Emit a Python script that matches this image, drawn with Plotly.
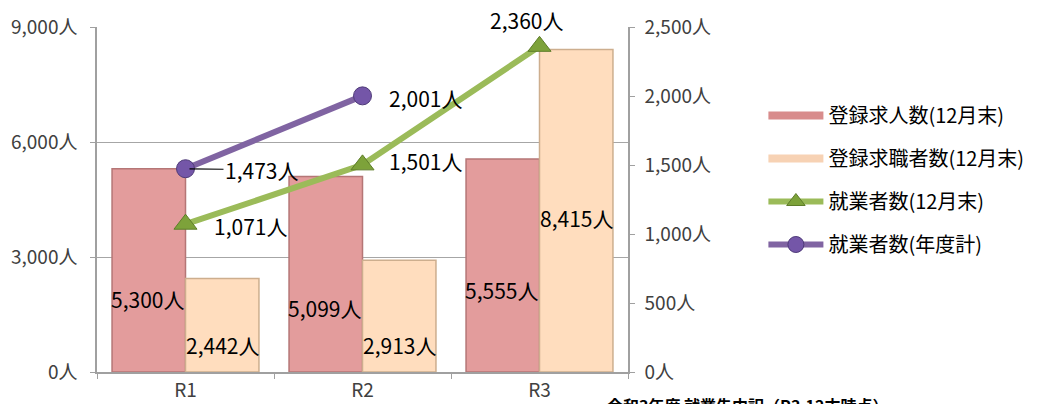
import plotly.graph_objects as go

categories = ["R1", "R2", "R3"]
kyujin = [5300, 5099, 5555]          # 登録求人数(12月末)
kyushoku = [2442, 2913, 8415]        # 登録求職者数(12月末)
shugyo_12 = [1071, 1501, 2360]       # 就業者数(12月末)
shugyo_year = [1473, 2001]           # 就業者数(年度計)
left_ticks = [0, 3000, 6000, 9000]
right_ticks = [0, 500, 1000, 1500, 2000, 2500]

# label placement styles (fraction of bar height, pixel offsets for line labels)
kyujin_lab_frac = [0.36, 0.33, 0.385]
kyushoku_lab_frac = [0.29, 0.24, 0.477]
shugyo12_offsets = [(65, -2), (63, 4), (-13, 26)]
shugyoyr_offsets = [(76, -1), (63, -2)]

FONT = "Noto Sans CJK JP"
PINK = "#E39C9C"
PINK_EDGE = "#B57676"
CREAM = "#FFDDBE"
CREAM_EDGE = "#CDAE8E"
GREEN = "#9BBB59"
PURPLE = "#8064A2"
LAB = dict(size=21, color="#000000", family=FONT)

# the page body has an 8px margin; the figure is sized to compensate
OFF = 8
W, H = 1041 - OFF, 404 - OFF

fig = go.Figure()
fig.add_trace(go.Bar(x=categories, y=kyujin, name="登録求人数(12月末)",
                     marker=dict(color=PINK, line=dict(color=PINK_EDGE, width=1.5)),
                     legendgroup="a", offsetgroup="a", showlegend=False))
fig.add_trace(go.Bar(x=categories, y=kyushoku, name="登録求職者数(12月末)",
                     marker=dict(color=CREAM, line=dict(color=CREAM_EDGE, width=1.5)),
                     legendgroup="b", offsetgroup="b", showlegend=False))
# legend-only entries drawn as wide flat bars, like the reference legend keys
fig.add_trace(go.Scatter(x=[None], y=[None], name="登録求人数(12月末)", mode="lines",
                         line=dict(color="#D88C8C", width=8), legendgroup="a"))
fig.add_trace(go.Scatter(x=[None], y=[None], name="登録求職者数(12月末)", mode="lines",
                         line=dict(color="#F7D2B4", width=8), legendgroup="b"))
fig.add_trace(go.Scatter(x=categories, y=shugyo_12, name="就業者数(12月末)", yaxis="y2",
                         mode="lines+markers",
                         line=dict(color=GREEN, width=6),
                         marker=dict(symbol="triangle-up", size=20, color="#7DA23A",
                                     line=dict(color="#5E7D2A", width=1)),
                         legendgroup="c"))
fig.add_trace(go.Scatter(x=categories[:len(shugyo_year)], y=shugyo_year, name="就業者数(年度計)",
                         yaxis="y2", mode="lines+markers",
                         line=dict(color=PURPLE, width=6),
                         marker=dict(symbol="circle", size=18, color="#7456A8",
                                     line=dict(color="#4E3A78", width=1)),
                         legendgroup="d"))

ann = []
for c, v, f in zip(categories, kyujin, kyujin_lab_frac):
    ann.append(dict(x=c, y=v * f, xref="x", yref="y", text=f"{v:,}人", showarrow=False,
                    xshift=-38, font=LAB))
for c, v, f in zip(categories, kyushoku, kyushoku_lab_frac):
    ann.append(dict(x=c, y=v * f, xref="x", yref="y", text=f"{v:,}人", showarrow=False,
                    xshift=37, font=LAB))
for c, v, (dx, dy) in zip(categories, shugyo_12, shugyo12_offsets):
    ann.append(dict(x=c, y=v, xref="x", yref="y2", text=f"{v:,}人", showarrow=False,
                    xshift=dx, yshift=dy, font=LAB))
for i, (c, v, (dx, dy)) in enumerate(zip(categories, shugyo_year, shugyoyr_offsets)):
    if i == 0:
        ann.append(dict(x=c, y=v, xref="x", yref="y2", text=f"{v:,}人", showarrow=True,
                        arrowhead=0, arrowcolor="#000000", arrowwidth=1.2, ax=dx, ay=-dy,
                        standoff=4, font=LAB))
    else:
        ann.append(dict(x=c, y=v, xref="x", yref="y2", text=f"{v:,}人", showarrow=False,
                        xshift=dx, yshift=dy, font=LAB))

# caption under the chart (partially cut by the page edge, as in the reference)
ann.append(dict(x=(748 - 97) / 531, y=-(405 - 372) / 345, xref="paper", yref="paper",
                xanchor="center", yanchor="middle",
                text="<b>令和3年度 就業先内訳（R3.12末時点）</b>",
                showarrow=False, font=dict(size=16, color="#000000", family=FONT)))

fig.update_layout(
    width=W, height=H,
    margin=dict(l=97 - OFF, r=1041 - 628, t=27 - OFF, b=404 - 372, autoexpand=False),
    paper_bgcolor="#FFFFFF", plot_bgcolor="#FFFFFF",
    font=dict(family=FONT, color="#404040", size=18),
    barmode="group", bargap=0.17, bargroupgap=0,
    showlegend=True,
    legend=dict(x=1.255, y=0.80, xanchor="left", yanchor="top",
                font=dict(size=20, color="#000000", family=FONT),
                tracegroupgap=14, itemwidth=55, bgcolor="rgba(0,0,0,0)",
                traceorder="grouped"),
    xaxis=dict(type="category", showline=True, linecolor="#A0A0A0", linewidth=1.5,
               ticks="outside", tickson="boundaries", ticklen=5, tickcolor="#A0A0A0",
               tickfont=dict(size=19, color="#404040"), showgrid=False, automargin=False),
    yaxis=dict(range=[0, 9000], tickmode="array", tickvals=left_ticks,
               ticktext=[f"{t:,}人" for t in left_ticks],
               showline=True, linecolor="#A0A0A0", linewidth=1.5,
               ticks="outside", ticklen=5, tickcolor="#A0A0A0", ticklabelstandoff=9,
               showgrid=True, gridcolor="#A6A6A6", gridwidth=1.2, zeroline=False,
               tickfont=dict(size=19, color="#404040"), automargin=False),
    yaxis2=dict(range=[0, 2500], tickmode="array", tickvals=right_ticks,
                ticktext=[f"{t:,}人" for t in right_ticks],
                overlaying="y", side="right", showline=True, linecolor="#A0A0A0",
                linewidth=1.5, ticks="outside", ticklen=5, tickcolor="#A0A0A0",
                ticklabelstandoff=6,
                showgrid=False, zeroline=False, tickfont=dict(size=19, color="#404040"),
                automargin=False),
    annotations=ann,
)
fig.write_html("out.html")
